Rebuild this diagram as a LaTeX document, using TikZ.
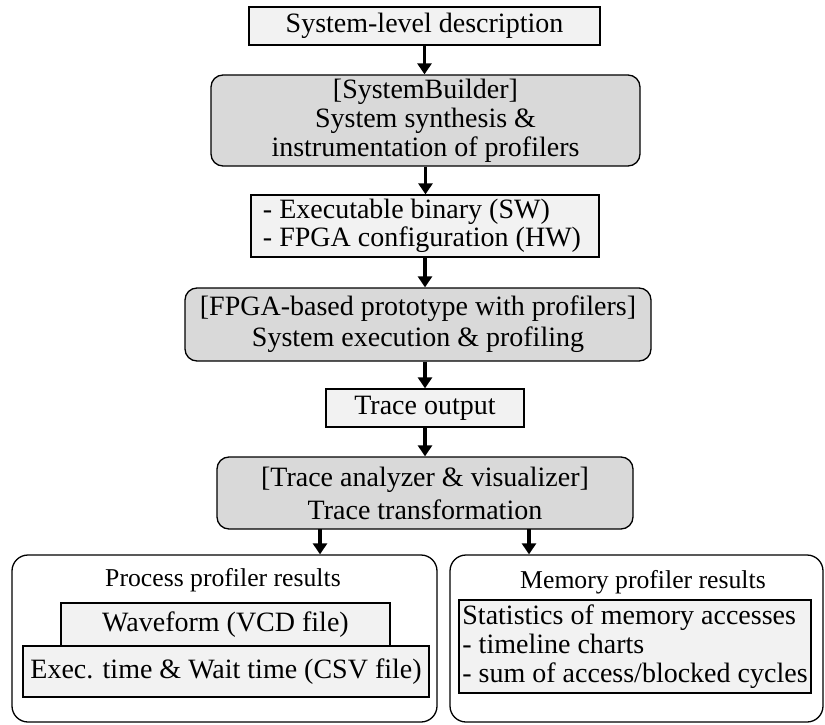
\documentclass[tikz,border=0pt]{standalone}
\usepackage{fontspec}
\setmainfont{Liberation Serif}
\usetikzlibrary{arrows.meta}
\definecolor{boxlight}{HTML}{F2F2F2}
\definecolor{boxdark}{HTML}{D9D9D9}
\begin{document}
\begin{tikzpicture}[x=1pt,y=-1pt,
  base/.style={draw, line width=1.3pt, inner sep=0pt, font=\fontsize{28}{29}\selectfont},
  filebox/.style={base, fill=boxlight},
  toolbox/.style={base, fill=boxdark, rounded corners=12pt},
  groupbox/.style={base, fill=white, rounded corners=16pt},
  grouptitle/.style={base, draw=none, font=\fontsize{25.7}{29}\selectfont},
  arr/.style={line width=3.5pt, -{Triangle[length=11pt,width=14pt]}}]
\useasboundingbox (0,0) rectangle (825,725);

% main flow
\node[filebox, minimum width=351pt, minimum height=38pt] (desc) at (424.5,26) {System-level description};
\node[toolbox, minimum width=429pt, minimum height=91pt, align=center] (synth) at (425.5,120.5)
  {[SystemBuilder]\\System synthesis \&\\instrumentation of profilers};
\node[filebox, minimum width=348pt, minimum height=62pt, align=left,
      font=\fontsize{28}{28}\selectfont] (bin) at (425,226)
  {- Executable binary (SW)\\- FPGA configuration (HW)\hspace*{6pt}};
\node[toolbox, minimum width=466pt, minimum height=73pt, align=center,
      font=\fontsize{28}{31}\selectfont] (proto) at (418,324.5)
  {[FPGA-based prototype with profilers]\\System execution \& profiling};
\node[filebox, minimum width=198pt, minimum height=38pt] (trace) at (425,408) {Trace output};
\node[toolbox, minimum width=416pt, minimum height=72pt, align=center,
      font=\fontsize{28}{33}\selectfont] (ana) at (425,493)
  {[Trace analyzer \& visualizer]\\Trace transformation};

% result groups
\node[groupbox, minimum width=425pt, minimum height=167pt] (proc) at (224.5,638.5) {};
\node[groupbox, minimum width=373pt, minimum height=167pt] (mem) at (636.5,638.5) {};
\node[grouptitle] (proct) at (223,580) {Process profiler results};
\node[grouptitle] (memt) at (643,582) {Memory profiler results};
\node[filebox, minimum width=329pt, minimum height=43pt] (wave) at (225.5,624.5) {Waveform (VCD file)};
\node[filebox, minimum width=406pt, minimum height=51pt] (exec) at (226,671.5) {Exec. time \& Wait time (CSV file)};
\node[filebox, minimum width=352pt, minimum height=93pt, align=left] (stats) at (635,646.5)
  {Statistics of memory accesses\\- timeline charts\\- sum of access/blocked cycles};

% connectors
\draw[arr] (desc.south) -- (desc.south |- synth.north);
\draw[arr] (synth.south) -- (synth.south |- bin.north);
\draw[arr] (bin.south) -- (bin.south |- proto.north);
\draw[arr] (proto.south -| trace.north) -- (trace.north);
\draw[arr] (trace.south) -- (trace.south |- ana.north);
\coordinate (o1) at (320,529);
\coordinate (o2) at (529,529);
\draw[arr] (o1) -- (o1 |- proc.north);
\draw[arr] (o2) -- (o2 |- mem.north);
\end{tikzpicture}
\end{document}
